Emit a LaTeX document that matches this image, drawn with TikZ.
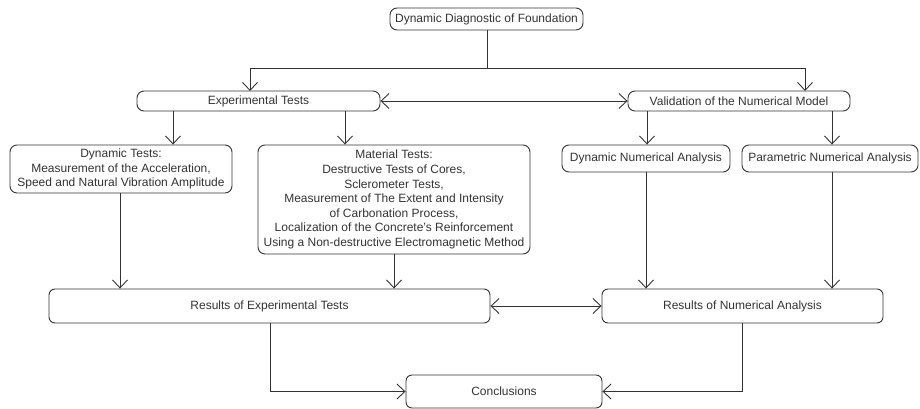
\documentclass[tikz,border=0pt]{standalone}
\usepackage{fontspec}
\setmainfont{Liberation Sans}
\usetikzlibrary{arrows.meta}
\definecolor{ink}{HTML}{333333}
\begin{document}
\begin{tikzpicture}[x=1pt,y=-1pt,
  box/.style={draw=ink, line width=0.9pt, rounded corners=7pt, align=center,
    inner sep=0pt, text=ink, font=\fontsize{12}{14.6}\selectfont},
  link/.style={draw=ink, line width=0.9pt},
  arr/.style={link, -{Straight Barb[length=8pt,width=15pt]}},
  darr/.style={link, {Straight Barb[length=8pt,width=15pt]}-{Straight Barb[length=8pt,width=15pt]}}]
\useasboundingbox (0,0) rectangle (920,409);

% nodes
\node[box, minimum width=193pt, minimum height=22pt] (root) at (486.5,19) {Dynamic Diagnostic of Foundation};
\node[box, minimum width=243pt, minimum height=20pt] (exp) at (258.5,101) {Experimental Tests};
\node[box, minimum width=222pt, minimum height=20pt] (val) at (739,101) {Validation of the Numerical Model};
\node[box, minimum width=222pt, minimum height=48pt] (dyn) at (121,169) {Dynamic Tests:\\Measurement of the Acceleration,\\Speed and Natural Vibration Amplitude};
\node[box, minimum width=272pt, minimum height=109pt] (mat) at (394,199.5) {Material Tests:\\Destructive Tests of Cores,\\Sclerometer Tests,\\Measurement of The Extent and Intensity\\of Carbonation Process,\\Localization of the Concrete's Reinforcement\\Using a Non-destructive Electromagnetic Method};
\node[box, minimum width=168pt, minimum height=27pt] (dna) at (646,158.5) {Dynamic Numerical Analysis};
\node[box, minimum width=176pt, minimum height=27pt] (pna) at (830,158.5) {Parametric Numerical Analysis};
\node[box, rounded corners=6pt, minimum width=441pt, minimum height=34pt] (rexp) at (269.5,306) {Results of Experimental Tests};
\node[box, rounded corners=6pt, minimum width=281pt, minimum height=34pt] (rnum) at (742.5,306) {Results of Numerical Analysis};
\node[box, rounded corners=6pt, minimum width=196pt, minimum height=33pt] (conc) at (504,391.5) {Conclusions};

% branching from the root
\coordinate (split) at (487,68);
\draw[link] (root.south -| split) -- (split);
\draw[arr] (split) -| (250,68) -- (250,91);
\draw[arr] (split) -| (805,68) -- (805,91);

% experimental branch
\draw[darr] (exp.east) -- (val.west);
\draw[arr] (173,111) -- (dyn.north -| 173,0);
\draw[arr] (345,111) -- (mat.north -| 345,0);
\draw[arr] (647,111) -- (dna.north -| 647,0);
\draw[arr] (832,111) -- (pna.north -| 832,0);

% into the result boxes
\draw[arr] (dyn.south -| 120,0) -- (rexp.north -| 120,0);
\draw[arr] (mat.south -| 394,0) -- (rexp.north -| 394,0);
\draw[arr] (dna.south -| 646,0) -- (rnum.north -| 646,0);
\draw[arr] (pna.south -| 832,0) -- (rnum.north -| 832,0);
\draw[darr] (rexp.east) -- (rnum.west);

% into the conclusions
\draw[arr] (rexp.south -| 270,0) |- (conc.west);
\draw[arr] (rnum.south -| 742,0) |- (conc.east);
\end{tikzpicture}
\end{document}
